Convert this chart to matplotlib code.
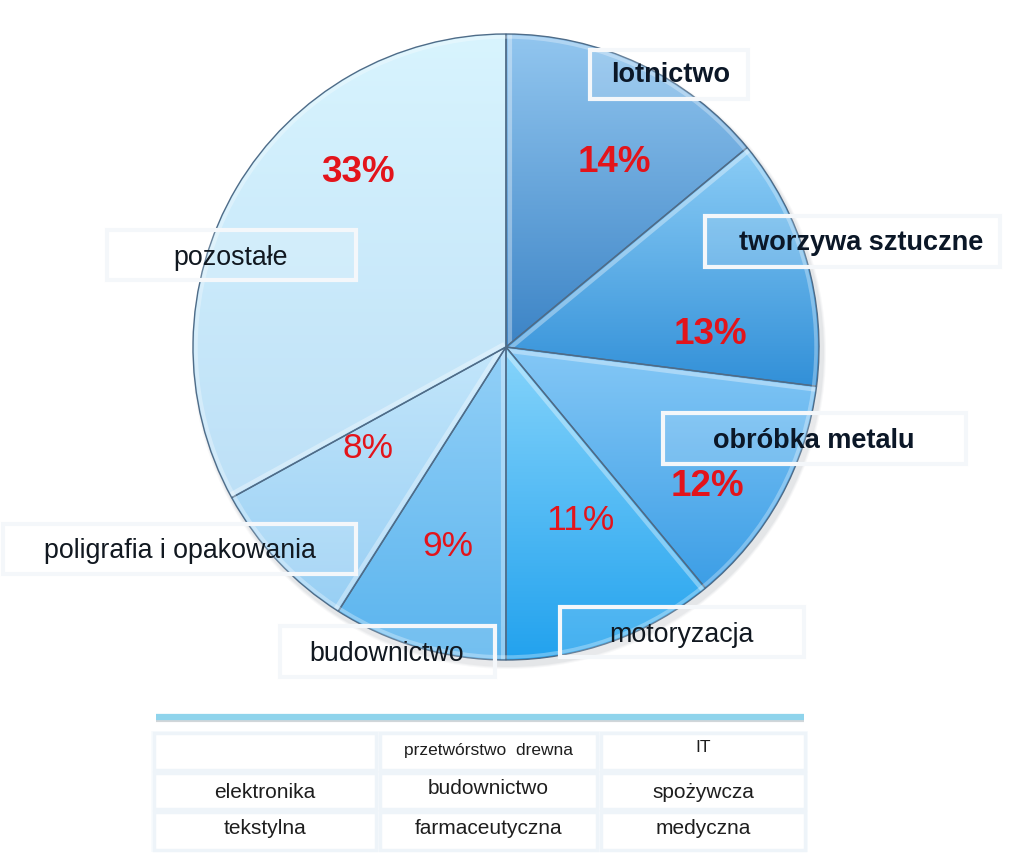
import matplotlib
matplotlib.use("Agg")
import matplotlib.pyplot as plt
import numpy as np
from matplotlib.patches import Rectangle, Wedge, Circle
from matplotlib.colors import to_rgba

plt.rcParams['font.family'] = ['Liberation Sans', 'DejaVu Sans']

# ---- data ----
sectors = ["lotnictwo", "tworzywa sztuczne", "obróbka metalu", "motoryzacja",
           "budownictwo", "poligrafia i opakowania", "pozostałe"]
shares = [14, 13, 12, 11, 9, 8, 33]
pct_bold = [True, True, True, False, False, False, True]
label_bold = [True, True, True, False, False, False, False]

table_rows = [["", "przetwórstwo  drewna", "IT"],
              ["elektronika", "budownictwo", "spożywcza"],
              ["tekstylna", "farmaceutyczna", "medyczna"]]

# ---- styles ----
grad_top = ["#92c6ef", "#8ccdf6", "#85c8f6", "#86d4fb", "#93d0f7", "#c3e6fb", "#d8f4fe"]
grad_bot = ["#3c84c6", "#3290d8", "#3c9ee6", "#22a2ee", "#5ab4ee", "#98cff4", "#bde0f7"]

W, H = 1024, 861
fig = plt.figure(figsize=(W / 100, H / 100), dpi=100)
ax = fig.add_axes([0, 0, 1, 1])

def Y(yp):
    return H - yp

cx, cy, R = 506, Y(347), 313

# soft shadow
for k, a in [(8, 0.06), (6, 0.08), (4, 0.10)]:
    ax.add_patch(Circle((cx + 3, cy - 5), R + k * 0.5, color="#8a949c", alpha=a, zorder=0, lw=0))

wedges, _ = ax.pie(shares, startangle=90, counterclock=False, radius=R, center=(cx, cy),
                   colors=grad_bot, wedgeprops=dict(edgecolor="none", linewidth=0))
ax.set_xlim(0, W)
ax.set_ylim(0, H)
ax.set_aspect("auto")
ax.axis("off")

for w, ct, cb in zip(wedges, grad_top, grad_bot):
    w.set_zorder(1)
    ext = w.get_path().get_extents()
    n = 256
    c1 = np.array(to_rgba(ct))
    c2 = np.array(to_rgba(cb))
    t = np.linspace(0, 1, n)[:, None]
    img = (c2 * (1 - t) + c1 * t)[:, None, :]
    im = ax.imshow(img, extent=(ext.x0, ext.x1, ext.y0, ext.y1), origin="lower",
                   aspect="auto", zorder=1.5, interpolation="bilinear")
    im.set_clip_path(w)
    # bevel highlight along the starting edge of each wedge
    a = np.deg2rad(w.theta2)
    u = np.array([np.cos(a), np.sin(a)])
    nrm = np.array([np.sin(a), -np.cos(a)])
    p0 = np.array([cx, cy]) + 3.5 * nrm
    p1 = np.array([cx, cy]) + R * u + 3.5 * nrm
    hl, = ax.plot([p0[0], p1[0]], [p0[1], p1[1]], color="white", lw=3, alpha=0.35,
                  zorder=1.8, solid_capstyle="butt")
    hl.set_clip_path(w)
    ax.add_patch(Wedge((cx, cy), R, w.theta1, w.theta2, facecolor="none",
                       edgecolor="#4f6c88", lw=1.0, zorder=2))

rim = Circle((cx, cy), R - 3, facecolor="none", edgecolor="white", lw=2.5, alpha=0.3, zorder=2.1)
ax.add_patch(rim)
ax.set_xlim(0, W)
ax.set_ylim(0, H)

# percentage labels
pct_pos = [(614, 162), (710, 335), (707, 486), (580, 520), (448, 546), (368, 449), (358, 172)]
for v, (px, py), b in zip(shares, pct_pos, pct_bold):
    ax.text(px, Y(py), f"{v}%", color="#e3141b", fontsize=26.5 if b else 25.5,
            fontweight="bold" if b else "normal", ha="center", va="center", zorder=5)

# sector label boxes (x0, y0, x1, y1) in pixel coords, and text centres
boxes = [(590, 50, 748, 99), (705, 216, 1000, 267), (663, 413, 966, 464),
         (560, 607, 804, 657), (280, 626, 495, 677), (3, 524, 356, 574),
         (107, 230, 356, 280)]
text_c = [(671, 74), (861, 242), (814, 440), (681, 634), (387, 653), (180, 550), (231, 257)]
for name, (x0, y0, x1, y1), (tx, ty), b in zip(sectors, boxes, text_c, label_bold):
    ax.add_patch(Rectangle((x0, Y(y1)), x1 - x0, y1 - y0, facecolor=(1, 1, 1, 0.15),
                           edgecolor="#f4f7fa", lw=3, zorder=3))
    ax.text(tx, Y(ty) - 1, name, fontsize=19.5 if b else 19.3,
            fontweight="bold" if b else "normal", color="#0b1727" if b else "#111820",
            ha="center", va="center", zorder=4)

# separator line
ax.plot([156, 804], [Y(720), Y(720)], color="#9aa4ac", lw=3, alpha=0.45,
        solid_capstyle="butt", zorder=2)
ax.plot([156, 804], [Y(716.5), Y(716.5)], color="#8fd4ec", lw=4.5,
        solid_capstyle="butt", zorder=3)

# table
col_x = [(154, 376), (380, 597), (601, 805)]
row_y = [(733, 770), (773, 809), (812, 850)]
text_y = [[751, 751, 748], [792, 788, 792], [829, 829, 829]]
ax.add_patch(Rectangle((151, Y(852)), 657, 121, facecolor="#f8fbfd", edgecolor="none", zorder=1))
for ri, (ry0, ry1) in enumerate(row_y):
    for ci, (cx0, cx1) in enumerate(col_x):
        ax.add_patch(Rectangle((cx0, Y(ry1)), cx1 - cx0, ry1 - ry0, facecolor="white",
                               edgecolor="#eef4f9", lw=2.5, zorder=2))
        txt = table_rows[ri][ci]
        if txt:
            fs = 12.5 if ri == 0 else 15
            ax.text((cx0 + cx1) / 2, Y(text_y[ri][ci]), txt, fontsize=fs, color="#1e1e1e",
                    ha="center", va="center", zorder=4)

fig.savefig("out.png", dpi=100, facecolor="white")
